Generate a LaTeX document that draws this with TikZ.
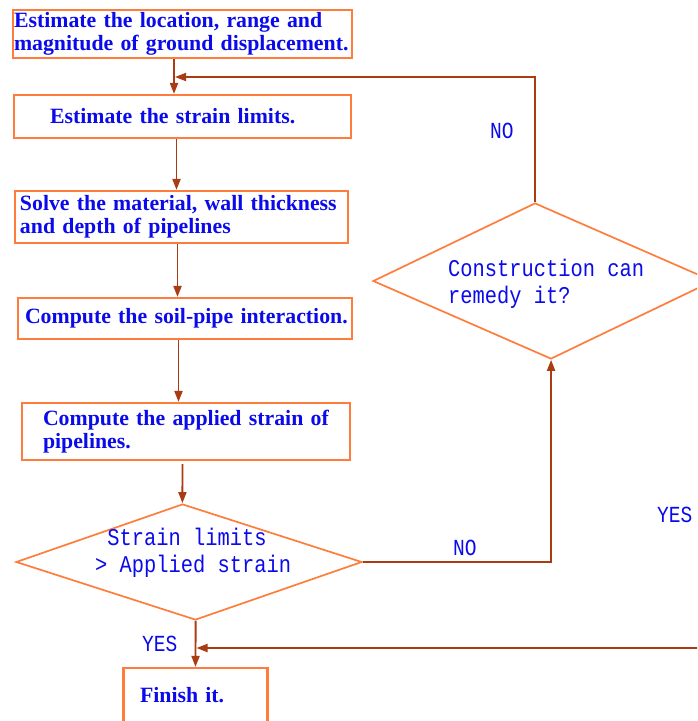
\documentclass[tikz,border=0pt]{standalone}
\usepackage{fontspec}
\usetikzlibrary{shapes.geometric,arrows.meta}
\newfontfamily\boxfnt{Liberation Serif}
\newfontfamily\monofnt[FakeStretch=0.85]{Liberation Mono}
\definecolor{boxorange}{RGB}{255,125,60}
\definecolor{linkbrown}{RGB}{170,60,20}
\definecolor{txtblue}{RGB}{10,10,235}
\tikzset{
 procbox/.style={draw=boxorange, line width=2.2pt, fill=white, inner sep=0pt, align=left,
   font=\boxfnt\bfseries\fontsize{21.8}{23}\selectfont, text=txtblue},
 decision/.style={draw=boxorange, line width=1.7pt, diamond, inner sep=0pt},
 decisiontext/.style={inner sep=0pt, align=left, font=\monofnt\fontsize{24}{26.5}\selectfont, text=txtblue},
 flowlabel/.style={inner sep=0pt, anchor=base west, font=\monofnt\fontsize{23}{24}\selectfont, text=txtblue},
 link/.style={draw=linkbrown, line width=1.9pt, -{Triangle[length=11pt,width=8pt]}},
}
\begin{document}
\begin{tikzpicture}[x=1pt,y=-1pt]
\useasboundingbox (0,0) rectangle (697,721);
\clip (0,0) rectangle (697,721);
\fill[white] (0,0) rectangle (697,721);

% process boxes
\node[procbox, text width=339pt, minimum width=339pt, minimum height=48pt] (b1) at (182.5,34)
  {\hspace*{1pt}Estimate the location, range and\\\hspace*{1pt}magnitude of ground displacement.};
\node[procbox, text width=337pt, minimum width=337pt, minimum height=43pt] (b2) at (182.5,116.5)
  {\hspace*{36pt}Estimate the strain limits.};
\node[procbox, text width=333pt, minimum width=333pt, minimum height=52pt] (b3) at (181.5,217)
  {\hspace*{5pt}Solve the material, wall thickness\\\hspace*{5pt}and depth of pipelines};
\node[procbox, text width=334pt, minimum width=334pt, minimum height=41pt] (b4) at (185,318.5)
  {\hspace*{7pt}Compute the soil-pipe interaction.};
\node[procbox, text width=328pt, minimum width=328pt, minimum height=57pt] (b5) at (186,431.5)
  {\hspace*{21pt}Compute the applied strain of\\\hspace*{21pt}pipelines.};
\node[procbox, text width=144pt, minimum width=144pt, minimum height=55pt] (b6) at (195.5,695.5)
  {\hspace*{16.5pt}Finish it.};

% decisions
\node[decision, xslant=-0.112, minimum width=346pt, minimum height=116pt] (d1) at (189,562) {};
\node[decision, xslant=-0.1026, minimum width=340pt, minimum height=156pt] (d2) at (543,281) {};
\node[decisiontext, anchor=west] (t1) at (95,553) {\hspace*{0.51em}Strain limits\\> Applied strain};
\node[decisiontext, anchor=west] (t2) at (448,284) {Construction can\\remedy it?};

% labels
\node[flowlabel] (l1) at (490,138) {NO};
\node[flowlabel] (l2) at (453,555) {NO};
\node[flowlabel] (l3) at (657,522) {YES};
\node[flowlabel] (l4) at (142,651) {YES};

\coordinate (j1) at (175,77);
\coordinate (j2) at (196.5,648);

% connectors
\draw[link] ([xshift=-8.5pt]b1.south) -- ([xshift=-8.5pt]b2.north);
\draw[link] ([xshift=-6pt]b2.south) -- ([xshift=-5pt]b3.north);
\draw[link] ([xshift=-4pt]b3.south) -- ([xshift=-7.5pt]b4.north);
\draw[link] ([xshift=-6.5pt]b4.south) -- ([xshift=-7.5pt]b5.north);
\draw[link] ([xshift=-3.5pt,yshift=-3pt]b5.south) -- (d1.north);
\draw[link] (d1.south) -- (b6.north);
\draw[link] (d1.east) -| (d2.south);
\draw[link] (d2.north) |- (j1);
\draw[link] (d2.east) |- (j2);
\end{tikzpicture}
\end{document}
